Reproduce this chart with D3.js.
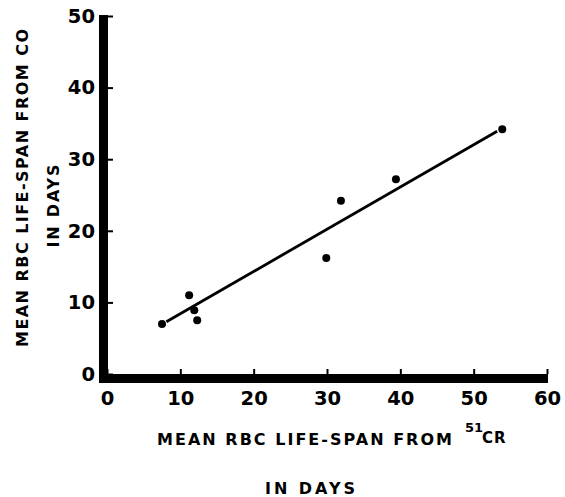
<!DOCTYPE html>
<html>
<head>
<meta charset="utf-8">
<script src="https://cdn.jsdelivr.net/npm/d3@7"></script>
<style>
  html, body { margin: 0; padding: 0; background: #fff; }
  svg { display: block; }
  text { font-family: "DejaVu Sans", sans-serif; font-weight: bold; fill: #000; }
</style>
</head>
<body>
<svg id="chart" width="565" height="497"></svg>
<script>
// Data
const xCr51 = [7.5, 11.2, 11.9, 12.3, 29.9, 31.9, 39.4, 53.9];   // mean RBC life-span from 51Cr (days)
const yCO   = [7.0, 11.0, 8.9, 7.5, 16.2, 24.2, 27.2, 34.2];     // mean RBC life-span from CO (days)
const fitLineX = [8.1, 53.2];
const fitLineY = [7.3, 33.9];
const xTicks = [0, 10, 20, 30, 40, 50, 60];
const yTicks = [0, 10, 20, 30, 40, 50];

const svg = d3.select("#chart");
const x = d3.scaleLinear().domain([0, 60]).range([107, 547]);
const y = d3.scaleLinear().domain([0, 50]).range([374, 16]);

// Y axis ticks (inside) & labels
const yAxis = d3.axisLeft(y).tickValues(yTicks).tickSizeInner(-6).tickSizeOuter(0).tickPadding(12);
const gy = svg.append("g").attr("transform", `translate(${x(0)},0)`).call(yAxis);
gy.select(".domain").remove();
gy.selectAll(".tick line").attr("stroke", "#000").attr("stroke-width", 2);
gy.selectAll(".tick text").style("font-size", "19.5px").style("font-family", "DejaVu Sans").style("font-weight", "bold");

// X axis ticks (inside) & labels
const xAxis = d3.axisBottom(x).tickValues(xTicks).tickSizeInner(-5).tickSizeOuter(0).tickPadding(17);
const gx = svg.append("g").attr("transform", `translate(0,${y(0)})`).call(xAxis);
gx.select(".domain").remove();
gx.selectAll(".tick line").attr("stroke", "#000").attr("stroke-width", 2);
gx.selectAll(".tick text").style("font-size", "19.5px").style("font-family", "DejaVu Sans").style("font-weight", "bold");

// Thick axis bars
svg.append("rect").attr("x", x(0) - 8).attr("y", y(50) - 1)
  .attr("width", 9).attr("height", y(0) - y(50) + 10).attr("fill", "#000");
svg.append("rect").attr("x", x(0) - 8).attr("y", y(0))
  .attr("width", x(60) - x(0) + 9).attr("height", 9).attr("fill", "#000");

// Fit line
svg.append("line")
  .attr("x1", x(fitLineX[0])).attr("y1", y(fitLineY[0]))
  .attr("x2", x(fitLineX[1])).attr("y2", y(fitLineY[1]))
  .attr("stroke", "#000").attr("stroke-width", 2.8);

// Points
svg.append("g").selectAll("circle")
  .data(xCr51.map((d, i) => [d, yCO[i]]))
  .join("circle")
  .attr("cx", d => x(d[0])).attr("cy", d => y(d[1])).attr("r", 4)
  .attr("fill", "#000");

// Y axis title
svg.append("text")
  .attr("transform", "translate(28,188) rotate(-90)")
  .attr("text-anchor", "middle")
  .attr("textLength", 318).attr("lengthAdjust", "spacing")
  .style("font-size", "16px")
  .text("MEAN RBC LIFE-SPAN FROM CO");
svg.append("text")
  .attr("transform", "translate(59,206) rotate(-90)")
  .attr("text-anchor", "middle")
  .attr("textLength", 83).attr("lengthAdjust", "spacing")
  .style("font-size", "16px")
  .text("IN DAYS");

// X axis title
svg.append("text")
  .attr("x", 157).attr("y", 445)
  .attr("textLength", 295).attr("lengthAdjust", "spacing")
  .style("font-size", "16px")
  .text("MEAN RBC LIFE-SPAN FROM");
const sup = svg.append("text").attr("x", 465).attr("y", 432);
sup.append("tspan").style("font-size", "13px").text("51");
sup.append("tspan").attr("x", 482).attr("y", 443).style("font-size", "15px").attr("letter-spacing", 1).text("CR");

svg.append("text")
  .attr("x", 310).attr("y", 494)
  .attr("text-anchor", "middle")
  .attr("textLength", 90).attr("lengthAdjust", "spacing")
  .style("font-size", "16px")
  .text("IN DAYS");
</script>
</body>
</html>
